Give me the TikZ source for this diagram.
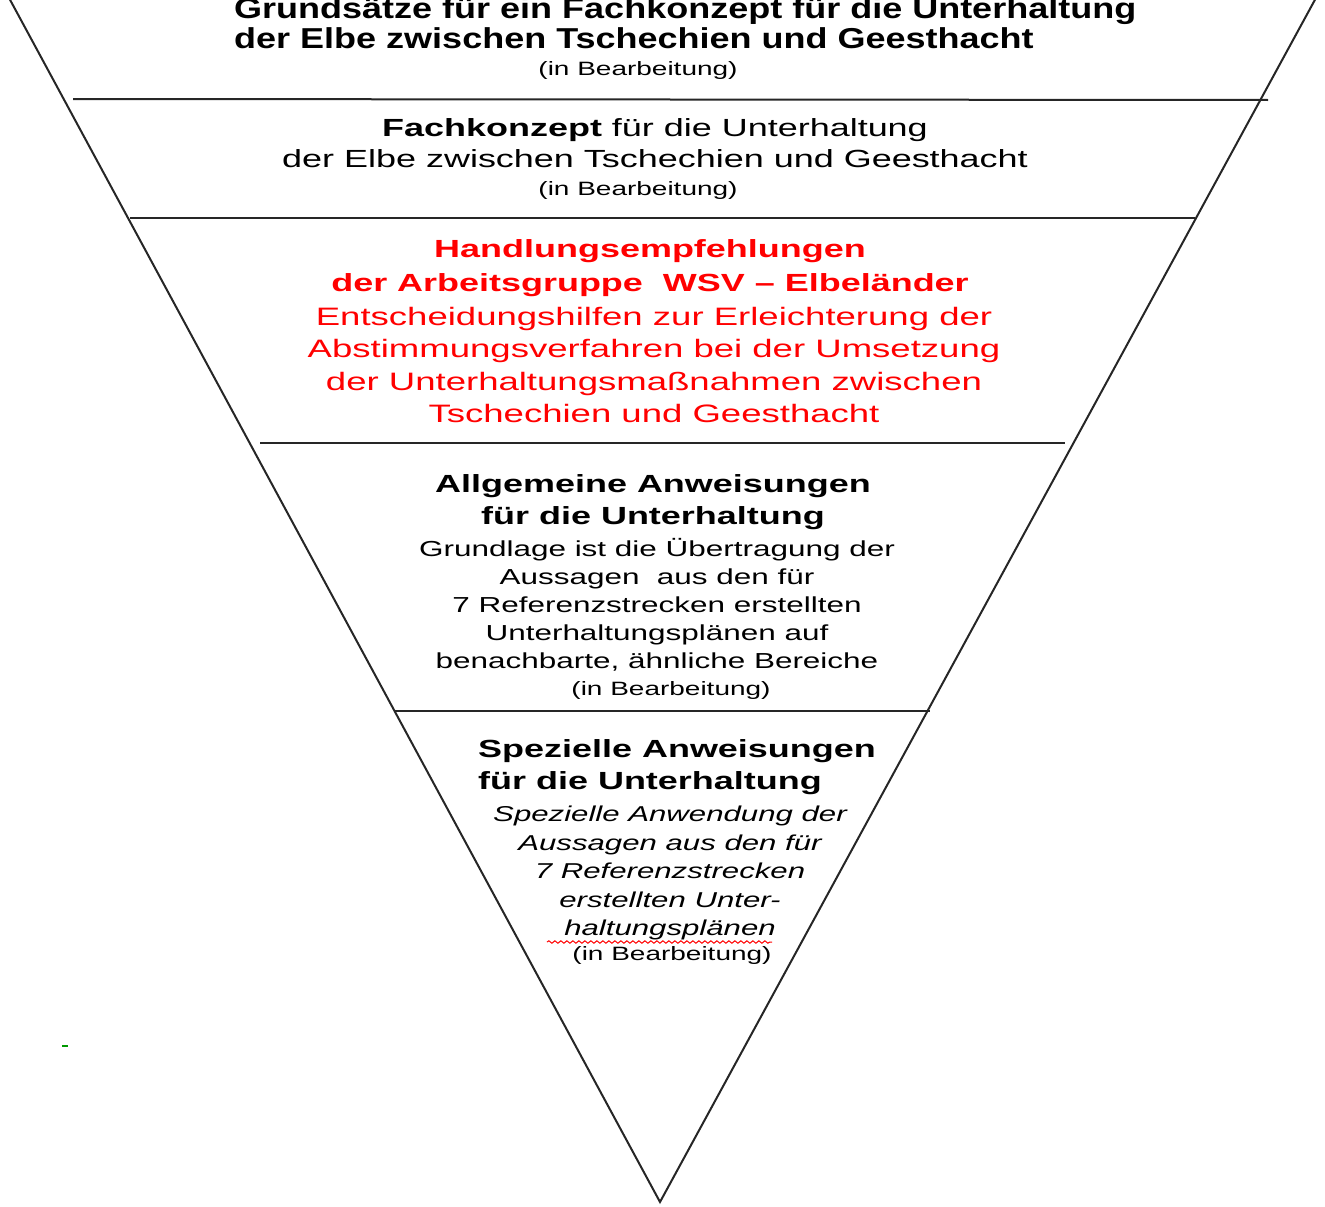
\documentclass[tikz,border=0pt]{standalone}
\usepackage{fontspec}
\usepackage{tikz}
\usetikzlibrary{decorations.pathmorphing}
\newfontfamily\widesans[FakeStretch=1.45]{Liberation Sans}
\newfontfamily\tallsans[FakeStretch=1.25]{Liberation Sans}

\tikzset{
  level/.style={line width=2pt, black!85},
  head/.style={align=center, inner sep=0pt, font=\widesans\bfseries\fontsize{24.8}{32}\selectfont},
  body/.style={align=center, inner sep=0pt, font=\widesans\fontsize{21.7}{28}\selectfont},
  note/.style={inner sep=0pt, anchor=base, font=\widesans\fontsize{19.3}{22}\selectfont},
}

\begin{document}
\begin{tikzpicture}[x=1pt,y=1pt]
        \useasboundingbox (0,0) rectangle (1325,-1207);
        % funnel and levels
        \draw[level] (8,4) -- (660,-1202) -- (1317,4);
        \draw[level] (73,-99) -- (1268,-100);
        \draw[level] (130,-218) -- (1195,-218);
        \draw[level] (260,-443) -- (1065,-443);
        \draw[level] (395,-711) -- (930,-711);
        % Grundsaetze
        \node[anchor=north west, align=left, inner sep=0pt, font=\tallsans\bfseries\fontsize{28.8}{30}\selectfont] (grund) at (234,3) {Grundsätze für ein Fachkonzept für die Unterhaltung\\der Elbe zwischen Tschechien und Geesthacht};
        \node[note] (grundnote) at (638,-75) {(in Bearbeitung)};
        % Fachkonzept
        \node[anchor=north, align=center, inner sep=0pt, font=\widesans\fontsize{24.8}{31}\selectfont] (fach) at (655,-118) {\textbf{Fachkonzept} für die Unterhaltung\\der Elbe zwischen Tschechien und Geesthacht};
        \node[note] (fachnote) at (638,-195) {(in Bearbeitung)};
        % Handlungsempfehlungen
        \node[head, red, anchor=north, font=\widesans\bfseries\fontsize{24.8}{34}\selectfont] (handlung) at (650,-239) {Handlungsempfehlungen\\der Arbeitsgruppe\ \ WSV – Elbeländer};
        \node[red, anchor=north, align=center, inner sep=0pt, font=\widesans\fontsize{25.2}{32.5}\selectfont] (hilfen) at (654,-307) {Entscheidungshilfen zur Erleichterung der\\Abstimmungsverfahren bei der Umsetzung\\der Unterhaltungsmaßnahmen zwischen\\Tschechien und Geesthacht};
        % Allgemeine Anweisungen
        \node[head, anchor=north] (allg) at (653,-474) {Allgemeine Anweisungen\\für die Unterhaltung};
        \node[body, anchor=north] (grundlage) at (657,-538) {Grundlage ist die Übertragung der\\Aussagen\ \ aus den für\\7 Referenzstrecken erstellten\\Unterhaltungsplänen auf\\benachbarte, ähnliche Bereiche};
        \node[note] (allgnote) at (671,-695) {(in Bearbeitung)};
        % Spezielle Anweisungen
        \node[head, anchor=north west, align=left] (spez) at (478,-739) {Spezielle Anweisungen\\für die Unterhaltung};
        \node[anchor=north, align=center, inner sep=0pt, font=\widesans\itshape\fontsize{21.5}{28.5}\selectfont] (anwendung) at (670,-806) {Spezielle Anwendung der\\Aussagen aus den für\\7 Referenzstrecken\\erstellten Unter-\\haltungsplänen};
        \draw[red, line width=1pt, decorate, decoration={snake, amplitude=1.2pt, segment length=6pt}] (547,-942) -- (772,-942);
        \node[note] (speznote) at (672,-960) {(in Bearbeitung)};
        \draw[green!60!black, line width=1.5pt] (62,-1046) -- (68,-1046);
    \end{tikzpicture}
\end{document}
